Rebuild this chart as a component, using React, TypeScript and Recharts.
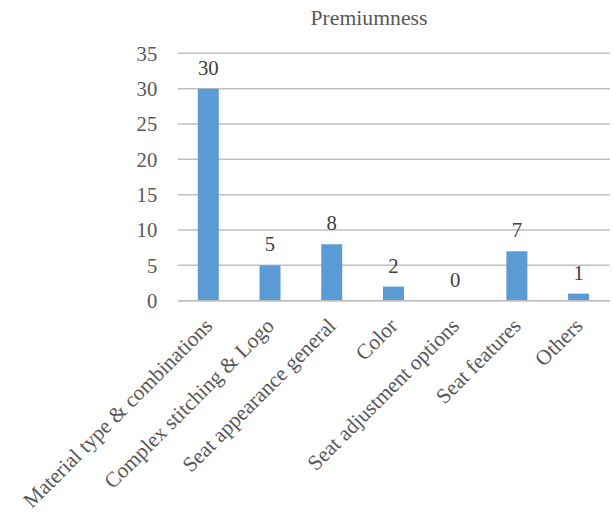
import React from 'react';
import { BarChart, Bar, XAxis, YAxis, CartesianGrid, LabelList } from 'recharts';

const categories = [
  'Material type & combinations',
  'Complex stitching & Logo',
  'Seat appearance general',
  'Color',
  'Seat adjustment options',
  'Seat features',
  'Others',
];
const values = [30, 5, 8, 2, 0, 7, 1];
const yTicks = [0, 5, 10, 15, 20, 25, 30, 35];
const title = 'Premiumness';

const data = categories.map((c, i) => ({ name: c, value: values[i] }));

const FONT = '"Liberation Serif", "Times New Roman", serif';

const XTick = (props: any) => {
  const { x, y, payload } = props;
  const ax = x + 5;
  const ay = y + 26.5;
  return (
    <text
      x={ax}
      y={ay}
      transform={`rotate(-45, ${ax}, ${ay})`}
      textAnchor="end"
      fill="#595959"
      fontSize={21.4}
      fontFamily={FONT}
    >
      {payload.value}
    </text>
  );
};

export default function App() {
  return (
    <div style={{ position: 'absolute', left: 0, top: 0, width: 613, height: 515, background: '#fff' }}>
      <div
        style={{
          position: 'absolute',
          left: 0,
          width: 613,
          top: 5,
          paddingLeft: 125,
          boxSizing: 'border-box',
          textAlign: 'center',
          fontFamily: FONT,
          fontSize: 21.7,
          color: '#595959',
          lineHeight: '27px',
        }}
      >
        {title}
      </div>
      <BarChart
        width={613}
        height={515}
        data={data}
        margin={{ top: 53.3, right: 3.2, bottom: 0, left: 117.8 }}
        style={{ fontFamily: FONT }}
      >
        <CartesianGrid horizontal vertical={false} stroke="#BFBFBF" strokeWidth={1.5} />
        <XAxis
          dataKey="name"
          interval={0}
          height={214.3}
          tickSize={0}
          tickMargin={0}
          axisLine={{ stroke: '#BFBFBF', strokeWidth: 1.5 }}
          tickLine={false}
          tick={<XTick />}
        />
        <YAxis
          width={60}
          domain={[0, 35]}
          ticks={yTicks}
          interval={0}
          axisLine={false}
          tickLine={false}
          tickSize={0}
          tickMargin={20.5}
          tick={{ fill: '#595959', fontSize: 20.7, fontFamily: FONT }}
        />
        <Bar dataKey="value" fill="#5B9BD5" barSize={21} minPointSize={0.01} isAnimationActive={false}>
          <LabelList
            dataKey="value"
            position="top"
            offset={14}
            fill="#404040"
            fontSize={20.7}
            fontFamily={FONT}
          />
        </Bar>
      </BarChart>
    </div>
  );
}
